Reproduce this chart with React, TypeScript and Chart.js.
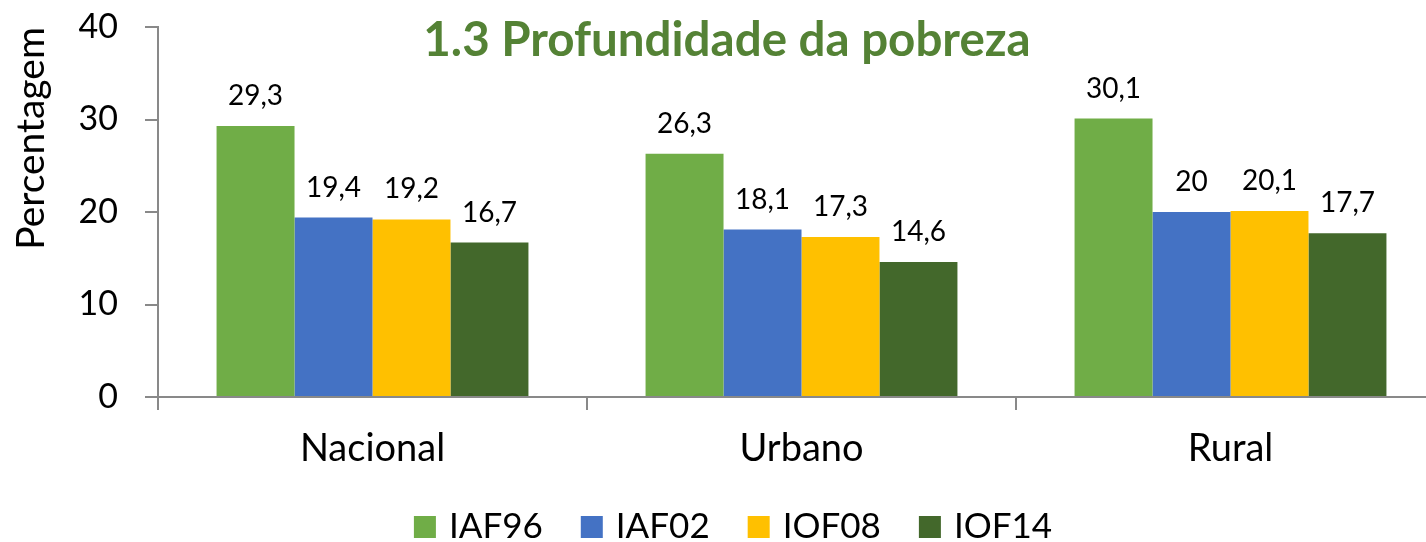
import React, { useEffect, useRef } from "react";
import { Chart, registerables } from "chart.js";

Chart.register(...registerables);

const categories = ["Nacional", "Urbano", "Rural"];
const seriesNames = ["IAF96", "IAF02", "IOF08", "IOF14"];
const iaf96 = [29.3, 26.3, 30.1];
const iaf02 = [19.4, 18.1, 20];
const iof08 = [19.2, 17.3, 20.1];
const iof14 = [16.7, 14.6, 17.7];
const seriesColors = ["#70AD47", "#4472C4", "#FFC000", "#43682B"];
const yTicks = [0, 10, 20, 30, 40];
const chartTitle = "1.3 Profundidade da pobreza";
const yTitle = "Percentagem";

const FONT = "Lato";
const W = 1450;
const H = 542;
const AREA_TOP = 27;
const AREA_BOTTOM = 397;

export default function App() {
  const ref = useRef<HTMLCanvasElement | null>(null);

  useEffect(() => {
    if (!ref.current) return;
    document.body.style.overflow = "hidden";
    const labelPlugin = {
      id: "valueLabels",
      afterDatasetsDraw(chart: any) {
        const ctx = chart.ctx;
        ctx.save();
        ctx.font = `28px ${FONT}`;
        ctx.fillStyle = "#000000";
        ctx.textAlign = "center";
        ctx.textBaseline = "alphabetic";
        chart.data.datasets.forEach((ds: any, i: number) => {
          const meta = chart.getDatasetMeta(i);
          meta.data.forEach((el: any, j: number) => {
            const v = ds.data[j];
            ctx.fillText(String(v).replace(".", ","), el.x, el.y - 21);
          });
        });
        ctx.restore();
      },
    };
    const titlePlugin = {
      id: "innerTitle",
      afterDraw(chart: any) {
        const ctx = chart.ctx;
        ctx.save();
        ctx.font = `bold 47.5px ${FONT}`;
        ctx.fillStyle = "#548235";
        ctx.textAlign = "center";
        ctx.textBaseline = "alphabetic";
        ctx.fillText(chartTitle, 727, 56);
        ctx.restore();
      },
    };
    const legendPlugin = {
      id: "bottomLegend",
      afterDraw(chart: any) {
        const ctx = chart.ctx;
        ctx.save();
        ctx.font = `35px ${FONT}`;
        const box = 22;
        const gap = 13;
        const spacing = 38;
        const widths = seriesNames.map((n) => box + gap + ctx.measureText(n).width);
        const total = widths.reduce((a, b) => a + b, 0) + spacing * (seriesNames.length - 1);
        let x = 733 - total / 2;
        const cy = 527;
        ctx.textAlign = "left";
        ctx.textBaseline = "middle";
        seriesNames.forEach((n, i) => {
          ctx.fillStyle = seriesColors[i];
          ctx.fillRect(x, cy - box / 2, box, box);
          ctx.fillStyle = "#000000";
          ctx.fillText(n, x + box + gap, cy);
          x += widths[i] + spacing;
        });
        ctx.restore();
      },
    };
    const values = [iaf96, iaf02, iof08, iof14];
    const chart = new Chart(ref.current, {
      type: "bar",
      data: {
        labels: categories,
        datasets: seriesNames.map((n, i) => ({
          label: n,
          data: values[i],
          backgroundColor: seriesColors[i],
          borderWidth: 0,
          barPercentage: 1,
          categoryPercentage: 0.727,
        })),
      },
      options: {
        responsive: false,
        animation: false,
        layout: { padding: { left: 0, right: 5, top: AREA_TOP, bottom: 0 } },
        plugins: {
          legend: { display: false },
          tooltip: { enabled: false },
          title: { display: false },
        },
        scales: {
          x: {
            grid: {
              offset: true,
              drawOnChartArea: false,
              drawTicks: true,
              tickLength: 13,
              color: "#898989",
              lineWidth: 2,
            },
            border: { color: "#898989", width: 2 },
            ticks: {
              color: "#000000",
              font: { family: FONT, size: 38 },
              padding: 16,
            },
            afterFit(s: any) {
              s.height = H - AREA_BOTTOM;
              s.paddingLeft = 0;
              s.paddingRight = 0;
            },
          },
          y: {
            min: 0,
            max: 40,
            afterBuildTicks(s: any) {
              s.ticks = yTicks.map((v) => ({ value: v }));
            },
            grid: {
              drawOnChartArea: false,
              drawTicks: true,
              tickLength: 13,
              color: "#898989",
              lineWidth: 2,
            },
            border: { color: "#898989", width: 2 },
            ticks: {
              color: "#000000",
              font: { family: FONT, size: 34 },
              padding: 27,
            },
            title: {
              display: true,
              text: yTitle,
              align: "end",
              color: "#000000",
              font: { family: FONT, size: 39 },
              padding: { top: 8, bottom: 0 },
            },
            afterFit(s: any) {
              s.width = 158;
              s.paddingTop = 0;
              s.paddingBottom = 0;
            },
          },
        },
      },
      plugins: [labelPlugin, titlePlugin, legendPlugin],
    });
    return () => chart.destroy();
  }, []);

  return (
    <div style={{ position: "fixed", left: 0, top: 0, width: W, height: H, background: "#ffffff" }}>
      <canvas ref={ref} width={W} height={H} style={{ width: W, height: H, display: "block" }} />
    </div>
  );
}
